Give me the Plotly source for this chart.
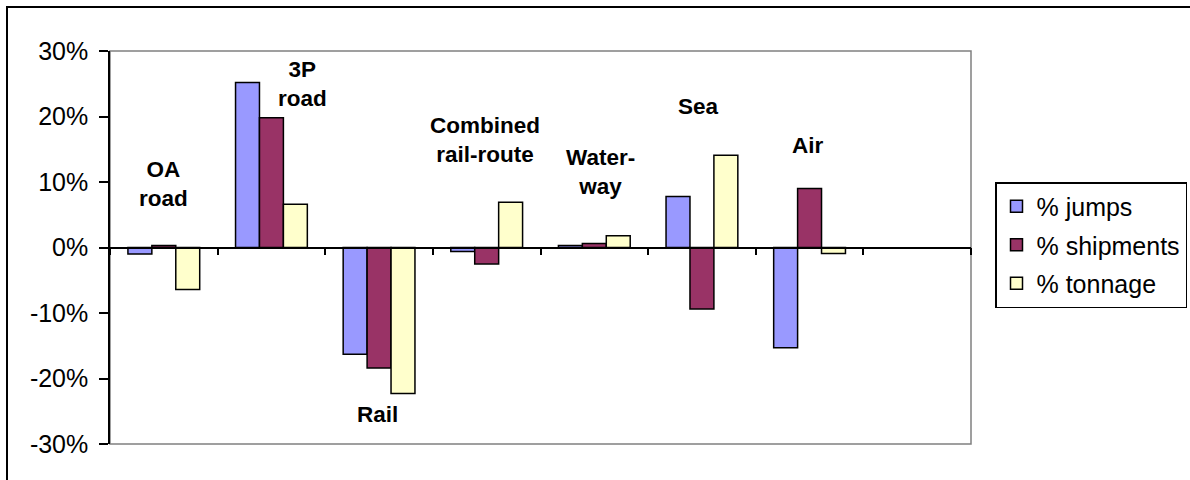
import plotly.graph_objects as go

# Change by transport mode
modes = ["OA road", "3P road", "Rail", "Combined rail-route", "Water-way", "Sea", "Air", ""]
jumps = [-0.010, 0.252, -0.163, -0.006, 0.003, 0.078, -0.153, None]
shipments = [0.003, 0.198, -0.184, -0.025, 0.006, -0.094, 0.090, None]
tonnage = [-0.064, 0.066, -0.223, 0.069, 0.018, 0.141, -0.009, None]

series_names = ["% jumps", "% shipments", "% tonnage"]
series_colors = ["#9999FF", "#993366", "#FFFFCC"]

# Value-axis ticks
y_ticks = [-0.3, -0.2, -0.1, 0.0, 0.1, 0.2, 0.3]
y_tick_text = ["-30%", "-20%", "-10%", "0%", "10%", "20%", "30%"]

# In-plot mode labels: text, x (category index), y (value axis)
label_texts = ["OA<br>road", "3P<br>road", "Rail", "Combined<br>rail-route", "Water-<br>way", "Sea", "Air"]
label_x = [0.0, 1.29, 1.99, 2.98, 4.06, 4.965, 5.99]
label_y = [0.097, 0.249, -0.255, 0.164, 0.115, 0.215, 0.156]

FONT = "Arial, Liberation Sans, sans-serif"
W, H = 1190, 480
L, R, T, B = 110, 219, 51, 36
pw, ph = W - L - R, H - T - B

xpos = list(range(len(modes)))
boundaries = [i - 0.5 for i in range(len(modes) + 1)]

fig = go.Figure()
for name, vals, col in zip(series_names, [jumps, shipments, tonnage], series_colors):
    fig.add_trace(go.Bar(
        x=xpos, y=vals, name=name, legendgroup=name,
        marker=dict(color=col, line=dict(color="black", width=1.5)),
    ))

for t, x, y in zip(label_texts, label_x, label_y):
    fig.add_annotation(
        x=x, y=y, xref="x", yref="y", text=f"<b>{t}</b>", showarrow=False,
        font=dict(family=FONT, size=22.5, color="black"), align="center",
    )

def px_x(p):
    return (p - L) / pw

def px_y(p):
    return 1 - (p - T) / ph

shapes = [
    # plot-area frame
    dict(type="rect", xref="paper", yref="paper", x0=0, x1=1, y0=0, y1=1,
         line=dict(color="#808080", width=1.5), layer="below"),
    # outer chart frame
    dict(type="rect", xref="paper", yref="paper",
         x0=px_x(7), x1=px_x(1200), y0=px_y(520), y1=px_y(7),
         line=dict(color="black", width=2), layer="below"),
]

fig.update_layout(
    width=W, height=H,
    margin=dict(l=L, r=R, t=T, b=B, autoexpand=False),
    paper_bgcolor="white", plot_bgcolor="white",
    barmode="group", bargap=0.333, bargroupgap=0,
    font=dict(family=FONT, color="black"),
    shapes=shapes,
    showlegend=True,
    legend=dict(
        x=px_x(995), y=px_y(182), xanchor="left", yanchor="top",
        bgcolor="white", bordercolor="black", borderwidth=1.5,
        font=dict(family=FONT, size=25, color="black"),
        tracegroupgap=3, itemwidth=30,
    ),
    xaxis=dict(
        range=[-0.5, 7.5], tickmode="array", tickvals=boundaries,
        showticklabels=False, showgrid=False, zeroline=False,
        showline=True, linecolor="black", linewidth=1.5,
        anchor="free", position=0.5,
        ticks="outside", ticklen=7, tickcolor="black", tickwidth=1.5,
    ),
    yaxis=dict(
        range=[-0.3, 0.3], tickmode="array", tickvals=y_ticks, ticktext=y_tick_text,
        showgrid=False, zeroline=False,
        showline=True, linecolor="black", linewidth=1.5,
        ticks="outside", ticklen=9, tickcolor="black", tickwidth=1.5,
        ticklabelstandoff=6,
        tickfont=dict(family=FONT, size=25, color="black"),
    ),
)

fig.write_html("out.html")
